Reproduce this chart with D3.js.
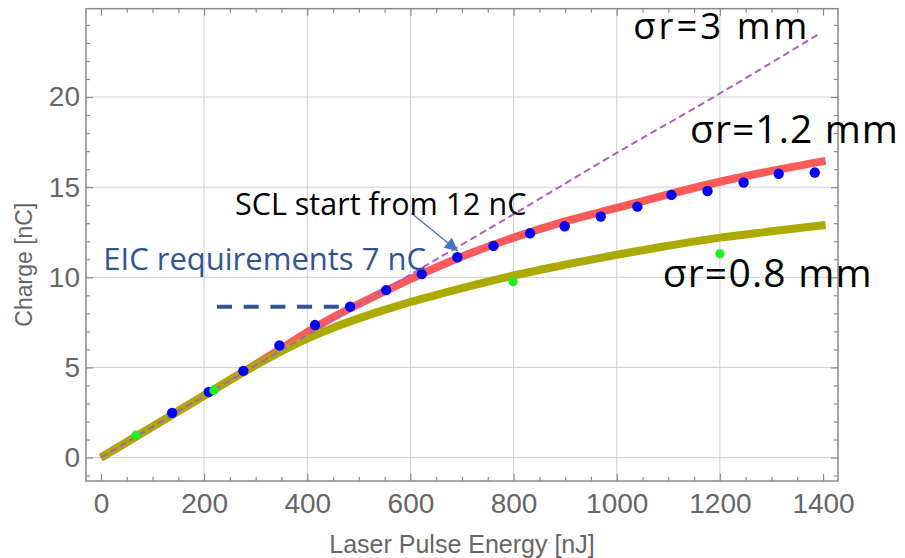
<!DOCTYPE html>
<html><head><meta charset="utf-8">
<script src="https://cdn.jsdelivr.net/npm/d3@7"></script>
<style>body{margin:0;background:#fff}svg{display:block}</style>
</head><body><svg id="c" width="905" height="558"></svg>
<script>
// ---- data ----
const xTicks = [0, 200, 400, 600, 800, 1000, 1200, 1400];
const yTicks = [0, 5, 10, 15, 20];
const xGrid = [200, 400, 600, 800, 1000, 1200];
const yGrid = [0, 5, 10, 15, 20];

// sigma_r = 3 mm (dashed purple)
const s3Energy = [0, 200, 400, 600, 800, 1000, 1200, 1395];
const s3Charge = [0, 3.42, 6.8, 10.15, 13.5, 16.9, 20.2, 23.55];

// sigma_r = 1.2 mm (thick red)
const s12Energy = [0, 100, 200, 250, 300, 350, 400, 450, 500, 600, 700, 800, 900, 1000, 1100, 1200, 1300, 1405];
const s12Charge = [0, 1.72, 3.44, 4.3, 5.17, 6.05, 6.95, 7.78, 8.52, 9.9, 11.15, 12.2, 13.1, 13.85, 14.6, 15.3, 15.9, 16.46];

// sigma_r = 0.8 mm (thick olive)
const s08Energy = [0, 100, 200, 250, 300, 350, 400, 450, 500, 550, 600, 700, 800, 900, 1000, 1100, 1200, 1300, 1405];
const s08Charge = [0, 1.72, 3.44, 4.3, 5.12, 5.9, 6.6, 7.2, 7.72, 8.19, 8.63, 9.4, 10.1, 10.7, 11.25, 11.75, 12.2, 12.55, 12.9];

// measured points (blue)
const blueEnergy = [138, 209, 276, 346, 415, 483, 553, 622, 691, 761, 832, 899, 969, 1040, 1106, 1176, 1246, 1314, 1384];
const blueCharge = [2.48, 3.64, 4.81, 6.22, 7.35, 8.37, 9.29, 10.18, 11.11, 11.74, 12.44, 12.83, 13.37, 13.92, 14.57, 14.79, 15.26, 15.74, 15.81];

// measured points (green)
const greenEnergy = [68, 219, 799, 1200];
const greenCharge = [1.24, 3.74, 9.76, 11.3];

// ---- layout ----
const svg = d3.select("#c");
const L = 86, R = 838, T = 8.7, B = 481;
const x = d3.scaleLinear().domain([-29, 1429]).range([L, R]);
const y = d3.scaleLinear().domain([-1.3, 24.9]).range([B, T]);
const gray = "#8a8a8a", labGray = "#666";

// grid
svg.append("g").selectAll("line").data(xGrid).join("line")
  .attr("x1", d => x(d)).attr("x2", d => x(d)).attr("y1", T).attr("y2", B)
  .attr("stroke", "#cfcfcf").attr("stroke-width", 1);
svg.append("g").selectAll("line").data(yGrid).join("line")
  .attr("y1", d => y(d)).attr("y2", d => y(d)).attr("x1", L).attr("x2", R)
  .attr("stroke", "#cfcfcf").attr("stroke-width", 1);

// axes (ticks inward, mirrored)
const xMinor = d3.range(0, 1429, 50).filter(v => v % 200 !== 0);
const yMinor = d3.range(-1, 25, 1).filter(v => v % 5 !== 0);
function axisGroup(axisFn, scale, ticks, size, transform, fmt) {
  const g = svg.append("g").attr("transform", transform)
    .call(axisFn(scale).tickValues(ticks).tickSize(size).tickFormat(fmt || ""));
  g.select(".domain").remove();
  g.selectAll(".tick line").attr("stroke", gray).attr("stroke-width", 1.2);
  return g;
}
const gx = axisGroup(d3.axisBottom, x, xTicks, -7, `translate(0,${B})`, d3.format("d"));
gx.selectAll("text").attr("y", 12).attr("dy", "0.71em").attr("fill", labGray)
  .style("font-family", "Liberation Sans, Arial, sans-serif").style("font-size", "28px");
axisGroup(d3.axisBottom, x, xMinor, -4, `translate(0,${B})`);
axisGroup(d3.axisTop, x, xTicks, -7, `translate(0,${T})`);
axisGroup(d3.axisTop, x, xMinor, -4, `translate(0,${T})`);
const gy = axisGroup(d3.axisLeft, y, yTicks, -7, `translate(${L},0)`, d3.format("d"));
gy.selectAll("text").attr("x", -6).attr("fill", labGray)
  .style("font-family", "Liberation Sans, Arial, sans-serif").style("font-size", "28px");
axisGroup(d3.axisLeft, y, yMinor, -4, `translate(${L},0)`);
axisGroup(d3.axisRight, y, yTicks, -7, `translate(${R},0)`);
axisGroup(d3.axisRight, y, yMinor, -4, `translate(${R},0)`);

// frame
svg.append("rect").attr("x", L).attr("y", T).attr("width", R - L).attr("height", B - T)
  .attr("fill", "none").attr("stroke", gray).attr("stroke-width", 1.5);

// axis titles
svg.append("text").attr("x", 462).attr("y", 553).attr("text-anchor", "middle")
  .attr("fill", labGray).style("font-family", "Liberation Sans, Arial, sans-serif").style("font-size", "25px")
  .text("Laser Pulse Energy [nJ]");
svg.append("text").attr("transform", `translate(32,${y(10.7)}) rotate(-90)`).attr("text-anchor", "middle")
  .attr("fill", labGray).style("font-family", "Liberation Sans, Arial, sans-serif").style("font-size", "23px")
  .text("Charge [nC]");

// curves
const line = d3.line().x(d => x(d[0])).y(d => y(d[1])).curve(d3.curveMonotoneX);
const zip = (a, b) => a.map((v, i) => [v, b[i]]);
svg.append("path").datum(zip(s12Energy, s12Charge)).attr("d", line)
  .attr("fill", "none").attr("stroke", "#ff5a5a").attr("stroke-width", 8);
svg.append("path").datum(zip(s08Energy, s08Charge)).attr("d", line)
  .attr("fill", "none").attr("stroke", "#aaaa00").attr("stroke-width", 8);
svg.append("path").datum(zip(s3Energy, s3Charge)).attr("d", line)
  .attr("fill", "none").attr("stroke", "#b05cc0").attr("stroke-width", 2).attr("stroke-dasharray", "7,4");

// points
svg.append("g").selectAll("circle").data(zip(blueEnergy, blueCharge)).join("circle")
  .attr("cx", d => x(d[0])).attr("cy", d => y(d[1])).attr("r", 5.2).attr("fill", "#0000ff");
svg.append("g").selectAll("circle").data(zip(greenEnergy, greenCharge)).join("circle")
  .attr("cx", d => x(d[0])).attr("cy", d => y(d[1])).attr("r", 4.6).attr("fill", "#22ee22");

// EIC requirement dashed line
svg.append("line").attr("x1", x(225)).attr("x2", x(473)).attr("y1", y(8.37)).attr("y2", y(8.37))
  .attr("stroke", "#2f5597").attr("stroke-width", 4).attr("stroke-dasharray", "15,11.7");

// arrow
svg.append("defs").append("marker").attr("id", "ah").attr("viewBox", "0 0 10 10")
  .attr("refX", 10).attr("refY", 5).attr("markerWidth", 15).attr("markerHeight", 13)
  .attr("markerUnits", "userSpaceOnUse").attr("orient", "auto")
  .append("path").attr("d", "M0,0 L10,5 L0,10 Z").attr("fill", "#4472c4");
svg.append("line").attr("x1", x(602)).attr("y1", y(13.55)).attr("x2", x(692)).attr("y2", y(11.46))
  .attr("stroke", "#4472c4").attr("stroke-width", 1.2).attr("marker-end", "url(#ah)");

// annotations
const annFont = "Open Sans, Noto Sans, sans-serif";
function ann(txt, ex, cy, size, color, len) {
  const t = svg.append("text").attr("x", x(ex)).attr("y", y(cy)).attr("fill", color)
    .style("font-family", annFont).style("font-size", size + "px").text(txt);
  if (len) t.attr("textLength", len).attr("lengthAdjust", "spacing");
}
ann("σr=3 mm", 1032, 23.2, 36.5, "#000", 174);
ann("σr=1.2 mm", 1142, 17.43, 39, "#000", 208);
ann("σr=0.8 mm", 1089, 9.48, 39, "#000", 209);
ann("SCL start from 12 nC", 260, 13.45, 30.5, "#000");
ann("EIC requirements 7 nC", 4.5, 10.4, 31, "#2f5597");
</script></body></html>
